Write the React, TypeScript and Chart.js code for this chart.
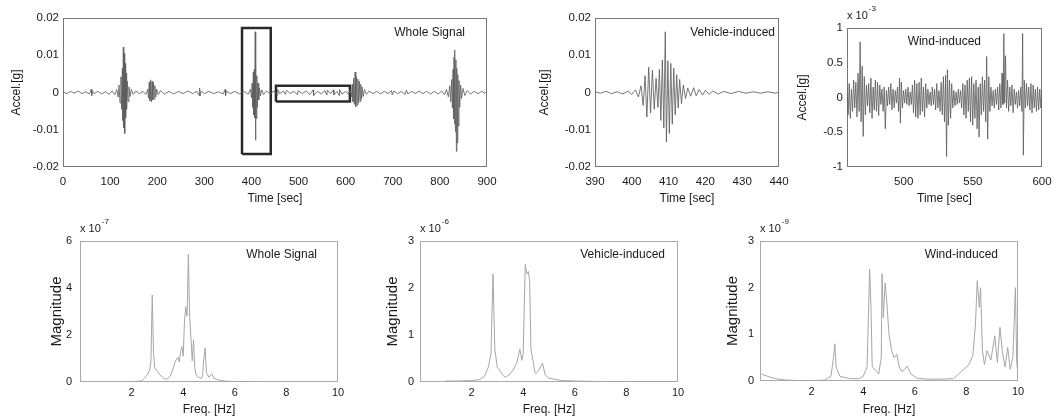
import React, { useEffect, useRef } from 'react';
import { Chart, registerables } from 'chart.js';

Chart.register(...registerables);

const FONT = '"Liberation Sans", Arial, Helvetica, sans-serif';

// ---------- Data ----------
// Whole signal: [time s, accel g]
const wholeSignal: number[][] = [
  [0, 0.0002], [8, -0.0003], [16, 0.0003], [24, -0.0002], [32, 0.0004], [40, -0.0003], [48, 0.0002],
  [56, -0.0004], [60, 0.0009], [61, -0.0008], [62, 0.0005], [66, -0.0003], [74, 0.0003], [82, -0.0004],
  [90, 0.0002], [98, -0.0005], [104, 0.0004], [110, -0.0006], [114, 0.0008], [117, -0.0012], [119, 0.002],
  [121, -0.0028], [123, 0.0042], [124.5, -0.0045], [126, 0.0065], [127, -0.0075], [128, 0.0122],
  [129, -0.0095], [130, 0.0105], [131, -0.011], [132, 0.0078], [133, -0.0068], [134, 0.0052],
  [135, -0.0045], [136.5, 0.003], [138, -0.0024], [140, 0.0015], [142, -0.0011], [145, 0.0008],
  [149, -0.0005], [155, 0.0004], [162, -0.0003], [170, 0.0003], [176, -0.0005], [180, 0.0009],
  [181.5, -0.0015], [183, 0.0028], [184.5, -0.0022], [186, 0.0034], [187.5, -0.0025], [189, 0.003],
  [190.5, -0.002], [192, 0.0026], [193.5, -0.0018], [195, 0.0018], [197, -0.0012], [199, 0.0009],
  [202, -0.0006], [207, 0.0005], [215, -0.0004], [225, 0.0003], [235, -0.0004], [245, 0.0003],
  [255, -0.0003], [265, 0.0004], [275, -0.0003], [284, 0.0003], [289, -0.0008], [290, 0.0012],
  [291, -0.0009], [293, 0.0004], [300, -0.0003], [310, 0.0003], [320, -0.0003], [330, 0.0002],
  [340, -0.0004], [344, 0.0008], [345, -0.0009], [347, 0.0004], [355, -0.0003], [365, 0.0003],
  [375, -0.0004], [385, 0.0003], [393, -0.0005], [398, 0.0009], [400, -0.0014], [401.5, 0.0025],
  [403, -0.004], [404, 0.0055], [405, -0.006], [406, 0.0062], [407, -0.0068], [408, 0.0163],
  [408.6, -0.0128], [409.5, 0.0075], [410.5, -0.007], [411.5, 0.0045], [412.5, -0.004], [414, 0.0025],
  [415.5, -0.002], [417, 0.0012], [419, -0.0009], [422, 0.0007], [426, -0.0005], [432, 0.0004],
  [440, -0.0003], [448, 0.0004], [455, -0.0007], [456, 0.0008], [460, -0.0003], [468, 0.0004],
  [472, -0.0005], [475, 0.0006], [482, -0.0003], [490, 0.0003], [498, -0.0006], [499, 0.0005],
  [508, -0.0003], [516, 0.0004], [524, -0.0005], [531, 0.0007], [532, -0.0008], [540, 0.0003],
  [548, -0.0004], [556, 0.0005], [560, -0.0007], [561, 0.0006], [568, -0.0003], [574, 0.0007],
  [575, -0.0006], [582, 0.0003], [586, -0.0008], [587, 0.0008], [592, -0.0004], [600, 0.0003],
  [606, -0.0005], [610, 0.0008], [612, -0.0012], [614, 0.0022], [615.5, -0.0025], [617, 0.0038],
  [618.5, -0.0032], [620, 0.0055], [621.5, -0.0038], [623, 0.0042], [624.5, -0.0034], [626, 0.0036],
  [627.5, -0.0028], [629, 0.003], [630.5, -0.0024], [632, 0.0022], [633.5, -0.0018], [635, 0.0015],
  [637, -0.0011], [640, 0.0008], [644, -0.0005], [650, 0.0004], [658, -0.0003], [666, 0.0003],
  [674, -0.0004], [682, 0.0003], [690, -0.0003], [697, 0.0005], [699, -0.0006], [702, 0.0004],
  [710, -0.0003], [718, 0.0003], [726, -0.0005], [729, 0.0006], [732, -0.0004], [740, 0.0003],
  [748, -0.0003], [756, 0.0004], [764, -0.0003], [772, 0.0003], [780, -0.0004], [788, 0.0003],
  [796, -0.0004], [804, 0.0004], [810, -0.0006], [814, 0.0008], [818, -0.0012], [821, 0.0018],
  [823, -0.0025], [825, 0.0035], [826.5, -0.0042], [828, 0.0062], [829, -0.007], [830, 0.0095],
  [831, -0.0085], [832, 0.0114], [833, -0.0105], [834, 0.0088], [835, -0.0158], [836, 0.0065],
  [837, -0.0135], [838, 0.0048], [839, -0.009], [840.5, 0.0032], [842, -0.004], [844, 0.002],
  [846, -0.0016], [849, 0.0011], [853, -0.0008], [858, 0.0005], [865, -0.0004], [873, 0.0003],
  [881, -0.0003], [889, 0.0003], [895, -0.0002], [900, 0.0002],
];

// Time windows marked on the whole signal: [tStart, tEnd, accMin, accMax]
const vehicleWindow = [380, 441, -0.0165, 0.0173];
const windWindow = [452, 609, -0.0024, 0.0018];

// Vehicle-induced segment: [time s, accel g]
const vehicleSignal: number[][] = [
  [390, 0.0002], [391.5, -0.0002], [393, 0.0003], [394.5, -0.0003], [396, 0.0002], [397.5, -0.0004],
  [399, 0.0004], [400, -0.0005], [401, 0.0007], [401.8, -0.0012], [402.5, 0.0018], [403.1, -0.0035],
  [403.6, 0.0045], [404.1, -0.0066], [404.6, 0.0068], [405.1, -0.0055], [405.6, 0.006], [406.1, -0.0045],
  [406.6, 0.0038], [407.1, -0.004], [407.5, 0.0062], [407.9, -0.0075], [408.3, 0.0087], [408.7, -0.0095],
  [409.1, 0.0163], [409.4, -0.0133], [409.8, 0.0085], [410.2, -0.011], [410.6, 0.0078], [411, -0.0085],
  [411.4, 0.0065], [411.8, -0.006], [412.2, 0.0048], [412.6, -0.0042], [413, 0.0035], [413.5, -0.003],
  [414, 0.002], [414.6, -0.0016], [415.2, 0.0012], [416, -0.001], [416.8, 0.0013], [417.5, -0.0009],
  [418.3, 0.0008], [419.2, -0.0007], [420, 0.0006], [421, -0.0005], [422, 0.0004], [423.5, -0.0004],
  [425, 0.0003], [427, -0.0003], [429, 0.0003], [431, -0.0002], [433, 0.0002], [435, -0.0002],
  [437, 0.0002], [439, -0.0002], [440, 0.0001],
];

// Wind-induced segment: [time s, accel in 1e-3 g]
const windSignal: number[][] = [
  [459, 0.15], [459.8, -0.25], [460.6, 0.2], [461.4, -0.3], [462.2, 0.12], [463, -0.2], [463.8, 0.25],
  [464.6, -0.15], [465.4, 0.22], [466.2, -0.28], [467, 0.35], [467.8, -0.2], [468.5, 0.8], [469.2, -0.35],
  [470, 0.45], [470.7, -0.56], [471.5, 0.3], [472.3, -0.25], [473.1, 0.18], [473.9, -0.12], [474.7, 0.2],
  [475.5, -0.22], [476.3, 0.28], [477.1, -0.3], [477.9, 0.15], [478.7, -0.18], [479.5, 0.25], [480.3, -0.2],
  [481.1, 0.22], [481.9, -0.26], [482.7, 0.18], [483.5, -0.1], [484.3, 0.12], [485.1, -0.2], [485.9, 0.15],
  [486.7, -0.45], [487.5, 0.1], [488.3, -0.12], [489.1, 0.15], [489.9, -0.1], [490.7, 0.2], [491.5, -0.18],
  [492.3, 0.12], [493.1, -0.15], [493.9, 0.1], [494.7, -0.08], [495.5, 0.15], [496.3, -0.2], [497, 0.28],
  [497.6, -0.37], [498.3, 0.22], [499.1, -0.15], [499.9, 0.1], [500.7, -0.08], [501.5, 0.12], [502.3, -0.1],
  [503.1, 0.15], [503.9, -0.12], [504.7, 0.08], [505.5, -0.1], [506.3, 0.18], [507.1, -0.22], [507.9, 0.25],
  [508.7, -0.28], [509.5, 0.2], [510.3, -0.3], [511.1, 0.22], [511.9, -0.25], [512.7, 0.28], [513.5, -0.2],
  [514.3, 0.15], [515.1, -0.28], [515.9, 0.2], [516.7, -0.15], [517.5, 0.12], [518.3, -0.1], [519.1, 0.08],
  [519.9, -0.12], [520.7, 0.15], [521.5, -0.1], [522.3, 0.12], [523.1, -0.18], [523.9, 0.2], [524.7, -0.15],
  [525.5, 0.1], [526.3, -0.2], [527.1, 0.22], [527.9, -0.25], [528.7, 0.3], [529.5, -0.35], [530.3, 0.32],
  [531, -0.85], [531.6, 0.4], [532.3, -0.4], [533.1, 0.25], [533.9, -0.3], [534.7, 0.2], [535.5, -0.15],
  [536.3, 0.1], [537.1, -0.12], [537.9, 0.08], [538.7, -0.1], [539.5, 0.12], [540.3, -0.08], [541.1, 0.1],
  [541.9, -0.15], [542.7, 0.2], [543.5, -0.25], [544.3, 0.18], [545.1, -0.3], [545.9, 0.25], [546.7, -0.2],
  [547.5, 0.28], [548.3, -0.35], [549.1, 0.3], [549.9, -0.4], [550.7, 0.2], [551.5, -0.3], [552.3, 0.25],
  [553.1, -0.45], [553.9, 0.15], [554.5, -0.57], [555.3, 0.2], [556.1, -0.25], [556.9, 0.3], [557.7, -0.2],
  [558.5, 0.25], [559.3, -0.35], [560, 0.59], [560.7, -0.6], [561.5, 0.3], [562.3, -0.2], [563.1, 0.15],
  [563.9, -0.12], [564.7, 0.1], [565.5, -0.15], [566.3, 0.12], [567.1, -0.1], [567.9, 0.15], [568.7, -0.18],
  [569.5, 0.2], [570.3, -0.15], [571.1, 0.35], [571.8, -0.1], [572.4, 0.92], [573, -0.08], [573.6, 0.6],
  [574.3, -0.15], [575.1, 0.25], [575.9, -0.2], [576.7, 0.15], [577.5, -0.12], [578.3, 0.18], [579.1, -0.22],
  [579.9, 0.12], [580.7, -0.1], [581.5, 0.08], [582.3, -0.15], [583.1, 0.1], [583.9, -0.12], [584.7, 0.15],
  [585.5, -0.2], [586, 0.92], [586.5, -0.83], [587.2, 0.25], [588, -0.15], [588.8, 0.2], [589.6, -0.12],
  [590.4, 0.15], [591.2, -0.18], [592, 0.2], [592.8, -0.22], [593.6, 0.18], [594.4, -0.15], [595.2, 0.12],
  [596, -0.2], [596.8, 0.15], [597.6, -0.18], [598.4, 0.12], [599.2, -0.15], [600, 0.1],
];

// Spectra: [freq Hz, magnitude in the panel's exponent unit]
const wholeSpectrum: number[][] = [
  [1.0, 0], [1.5, 0], [2.0, 0.01], [2.4, 0.05], [2.6, 0.3], [2.7, 0.5], [2.75, 0.9], [2.8, 3.7], [2.85, 1.2],
  [2.9, 0.6], [3.0, 0.45], [3.1, 0.3], [3.2, 0.2], [3.3, 0.12], [3.4, 0.15], [3.5, 0.25], [3.6, 0.55],
  [3.7, 0.9], [3.8, 1.05], [3.85, 0.85], [3.9, 1.3], [3.95, 1.5], [4.0, 1.1], [4.05, 2.6], [4.1, 3.2],
  [4.15, 2.8], [4.2, 5.45], [4.25, 2.8], [4.3, 1.9], [4.35, 0.9], [4.4, 1.8], [4.45, 0.6], [4.5, 0.3],
  [4.6, 0.2], [4.7, 0.15], [4.75, 0.25], [4.8, 1.0], [4.85, 1.45], [4.9, 0.4], [5.0, 0.2], [5.1, 0.35],
  [5.2, 0.15], [5.4, 0.08], [5.6, 0.04], [6.0, 0.02], [7.0, 0.01], [8.0, 0.01], [9.0, 0], [10.0, 0],
];
const vehicleSpectrum: number[][] = [
  [1.0, 0.02], [1.5, 0.02], [2.0, 0.03], [2.3, 0.05], [2.5, 0.12], [2.65, 0.32], [2.75, 0.6], [2.83, 2.3],
  [2.9, 0.7], [3.0, 0.3], [3.1, 0.25], [3.2, 0.15], [3.3, 0.1], [3.45, 0.15], [3.6, 0.25], [3.75, 0.4],
  [3.87, 0.7], [3.95, 0.46], [4.0, 0.6], [4.08, 2.5], [4.14, 2.3], [4.2, 2.35], [4.25, 2.15], [4.3, 0.7],
  [4.4, 0.4], [4.45, 0.2], [4.5, 0.18], [4.6, 0.25], [4.75, 0.4], [4.85, 0.15], [5.0, 0.08], [5.5, 0.03],
  [6.0, 0.02], [7.0, 0.01], [8.0, 0.01], [9.0, 0.01], [10.0, 0.01],
];
const windSpectrum: number[][] = [
  [0.05, 0.15], [0.2, 0.12], [0.4, 0.08], [0.6, 0.05], [1.0, 0.02], [1.5, 0.01], [2.0, 0.01], [2.5, 0.02],
  [2.75, 0.1], [2.85, 0.5], [2.9, 0.8], [2.95, 0.3], [3.1, 0.1], [3.5, 0.05], [3.85, 0.05], [4.0, 0.1],
  [4.15, 0.3], [4.25, 2.4], [4.3, 1.6], [4.35, 0.3], [4.45, 0.25], [4.6, 0.15], [4.7, 0.5], [4.73, 2.3],
  [4.78, 1.36], [4.85, 2.1], [4.92, 1.65], [5.0, 1.0], [5.1, 0.65], [5.2, 0.5], [5.3, 0.57], [5.4, 0.3],
  [5.5, 0.2], [5.6, 0.25], [5.7, 0.32], [5.85, 0.15], [6.1, 0.06], [6.5, 0.04], [7.0, 0.04], [7.5, 0.05],
  [7.7, 0.15], [7.9, 0.25], [8.1, 0.35], [8.25, 0.55], [8.35, 1.2], [8.42, 2.15], [8.5, 1.58], [8.55, 2.0],
  [8.62, 0.65], [8.7, 0.35], [8.8, 0.65], [8.95, 0.45], [9.1, 0.97], [9.2, 0.4], [9.3, 1.15], [9.4, 0.6],
  [9.5, 0.3], [9.6, 0.72], [9.7, 0.25], [9.8, 0.5], [9.9, 2.0], [9.95, 0.4], [10.0, 0.15],
];

// Tick values
const wholeTimeTicks = [0, 100, 200, 300, 400, 500, 600, 700, 800, 900];
const vehicleTimeTicks = [390, 400, 410, 420, 430, 440];
const windTimeTicks = [500, 550, 600];
const accelTicks = [-0.02, -0.01, 0, 0.01, 0.02];
const windAccelTicks = [-1, -0.5, 0, 0.5, 1];
const freqTicks = [2, 4, 6, 8, 10];
const wholeMagTicks = [0, 2, 4, 6];
const vehicleMagTicks = [0, 1, 2, 3];
const windMagTicks = [0, 1, 2, 3];

// ---------- Drawing helpers ----------
const toXY = (arr: number[][]) => arr.map(([x, y]) => ({ x, y }));
const boxXY = (w: number[]) => [
  { x: w[0], y: w[2] }, { x: w[1], y: w[2] }, { x: w[1], y: w[3] }, { x: w[0], y: w[3] }, { x: w[0], y: w[2] },
];
const fmt = (v: number) => String(parseFloat(v.toFixed(4)));

const decor = {
  id: 'decor',
  beforeDatasetsDraw(chart: any, _a: any, opts: any) {
    const { ctx, chartArea: a } = chart;
    ctx.save();
    ctx.strokeStyle = opts.frame || '#666';
    ctx.lineWidth = 1;
    ctx.strokeRect(Math.round(a.left) + 0.5, Math.round(a.top) + 0.5, Math.round(a.right - a.left) - 1, Math.round(a.bottom - a.top) - 1);
    ctx.restore();
  },
  afterDraw(chart: any, _a: any, opts: any) {
    const { ctx, chartArea: a } = chart;
    ctx.save();
    ctx.fillStyle = '#1a1a1a';
    if (opts.title) {
      ctx.font = `${opts.titleSize || 12}px ${FONT}`;
      ctx.textAlign = 'right';
      ctx.textBaseline = 'middle';
      ctx.fillText(opts.title, a.right - opts.titleDx, a.top + opts.titleDy);
    }
    if (opts.exp) {
      ctx.font = `11px ${FONT}`;
      ctx.textAlign = 'left';
      ctx.textBaseline = 'middle';
      const base = 'x 10';
      ctx.fillText(base, a.left, a.top - 12);
      const w = ctx.measureText(base).width;
      ctx.font = `8px ${FONT}`;
      ctx.fillText(opts.exp, a.left + w + 1, a.top - 19);
    }
    ctx.restore();
  },
};

type Panel = {
  area: number[]; // L, T, R, B (page px)
  yW: number; xH: number; padT: number; padR: number;
  xMin: number; xMax: number; xTicks: number[];
  yMin: number; yMax: number; yTicks: number[];
  xTitle: string; yTitle: string; yTitleSize: number;
  xPad: number; yPad: number; tickSize: number;
  title: string; titleDx: number; titleDy: number; titleSize: number;
  exp?: string; frame: string;
  datasets: any[];
};

const sig = (d: number[][], color = 'rgba(95,95,95,0.85)') => ({
  data: toXY(d), borderColor: color, borderWidth: 1, pointRadius: 0, tension: 0, fill: false,
});
const spec = (d: number[][]) => ({
  data: toXY(d), borderColor: '#a6a6a6', borderWidth: 1, pointRadius: 0, tension: 0, fill: false,
});
const box = (w: number[]) => ({
  data: boxXY(w), borderColor: '#2a2a2a', borderWidth: 2.5, pointRadius: 0, tension: 0, fill: false,
});

const panels: Panel[] = [
  {
    area: [63, 18, 487, 167], yW: 54, xH: 39, padT: 10, padR: 14,
    xMin: 0, xMax: 900, xTicks: wholeTimeTicks, yMin: -0.02, yMax: 0.02, yTicks: accelTicks,
    xTitle: 'Time [sec]', yTitle: 'Accel.[g]', yTitleSize: 12, xPad: 8, yPad: 4, tickSize: 11.5,
    title: 'Whole Signal', titleDx: 22, titleDy: 15, titleSize: 12, frame: '#777',
    datasets: [sig(wholeSignal), box(vehicleWindow), box(windWindow)],
  },
  {
    area: [595, 18, 779, 167], yW: 58, xH: 39, padT: 10, padR: 14,
    xMin: 390, xMax: 440, xTicks: vehicleTimeTicks, yMin: -0.02, yMax: 0.02, yTicks: accelTicks,
    xTitle: 'Time [sec]', yTitle: 'Accel.[g]', yTitleSize: 12, xPad: 8, yPad: 4, tickSize: 11.5,
    title: 'Vehicle-induced', titleDx: 4, titleDy: 15, titleSize: 12, frame: '#777',
    datasets: [sig(vehicleSignal)],
  },
  {
    area: [847, 28, 1042, 167], yW: 52, xH: 39, padT: 26, padR: 14,
    xMin: 459, xMax: 600, xTicks: windTimeTicks, yMin: -1, yMax: 1, yTicks: windAccelTicks,
    xTitle: 'Time [sec]', yTitle: 'Accel.[g]', yTitleSize: 12, xPad: 8, yPad: 4, tickSize: 11.5,
    title: 'Wind-induced', titleDx: 61, titleDy: 14, titleSize: 12, exp: '-3', frame: '#777',
    datasets: [sig(windSignal, 'rgba(90,90,90,0.8)')],
  },
  {
    area: [80, 241, 338, 382], yW: 32, xH: 35, padT: 26, padR: 14,
    xMin: 0, xMax: 10, xTicks: freqTicks, yMin: 0, yMax: 6, yTicks: wholeMagTicks,
    xTitle: 'Freq. [Hz]', yTitle: 'Magnitude', yTitleSize: 15, xPad: 4, yPad: 8, tickSize: 11,
    title: 'Whole Signal', titleDx: 21, titleDy: 14, titleSize: 12, exp: '-7', frame: '#aaa',
    datasets: [spec(wholeSpectrum)],
  },
  {
    area: [420, 241, 678, 382], yW: 36, xH: 35, padT: 26, padR: 14,
    xMin: 0, xMax: 10, xTicks: freqTicks, yMin: 0, yMax: 3, yTicks: vehicleMagTicks,
    xTitle: 'Freq. [Hz]', yTitle: 'Magnitude', yTitleSize: 15, xPad: 4, yPad: 6, tickSize: 11,
    title: 'Vehicle-induced', titleDx: 13, titleDy: 14, titleSize: 12, exp: '-6', frame: '#aaa',
    datasets: [spec(vehicleSpectrum)],
  },
  {
    area: [760, 241, 1018, 381], yW: 36, xH: 36, padT: 26, padR: 14,
    xMin: 0, xMax: 10, xTicks: freqTicks, yMin: 0, yMax: 3, yTicks: windMagTicks,
    xTitle: 'Freq. [Hz]', yTitle: 'Magnitude', yTitleSize: 15, xPad: 4, yPad: 6, tickSize: 11,
    title: 'Wind-induced', titleDx: 20, titleDy: 14, titleSize: 12, exp: '-9', frame: '#aaa',
    datasets: [spec(windSpectrum)],
  },
];

const geom = (p: Panel) => {
  const [L, T, R, B] = p.area;
  return { left: L - p.yW, top: T - p.padT, width: R - L + p.yW + p.padR, height: B - T + p.xH + p.padT };
};

function PanelChart({ p }: { p: Panel }) {
  const ref = useRef<HTMLCanvasElement | null>(null);
  const g = geom(p);
  useEffect(() => {
    if (!ref.current) return;
    const tickFont = { family: FONT, size: p.tickSize };
    const chart = new Chart(ref.current, {
      type: 'line',
      data: { datasets: p.datasets },
      plugins: [decor as any],
      options: {
        animation: false,
        responsive: false,
        devicePixelRatio: 1,
        events: [],
        layout: { padding: { left: 0, top: p.padT, right: p.padR, bottom: 0 } },
        plugins: {
          legend: { display: false },
          tooltip: { enabled: false },
          decor: {
            title: p.title, titleDx: p.titleDx, titleDy: p.titleDy, titleSize: p.titleSize,
            exp: p.exp, frame: p.frame,
          },
        } as any,
        scales: {
          x: {
            type: 'linear',
            min: p.xMin,
            max: p.xMax,
            grid: { display: false, drawTicks: false, tickLength: 0 },
            border: { display: false },
            afterBuildTicks: (s: any) => { s.ticks = p.xTicks.map((v) => ({ value: v })); },
            afterFit: (s: any) => { s.height = p.xH; s.paddingLeft = 0; s.paddingRight = 0; },
            ticks: {
              color: '#1a1a1a', font: tickFont, padding: p.xPad, maxRotation: 0, autoSkip: false,
              callback: (v: any) => fmt(Number(v)),
            },
            title: {
              display: true, text: p.xTitle, color: '#1a1a1a',
              font: { family: FONT, size: 12 }, padding: 0,
            },
          },
          y: {
            type: 'linear',
            min: p.yMin,
            max: p.yMax,
            grid: { display: false, drawTicks: false, tickLength: 0 },
            border: { display: false },
            afterBuildTicks: (s: any) => { s.ticks = p.yTicks.map((v) => ({ value: v })); },
            afterFit: (s: any) => { s.width = p.yW; s.paddingTop = 0; s.paddingBottom = 0; },
            ticks: {
              color: '#1a1a1a', font: tickFont, padding: p.yPad, autoSkip: false,
              callback: (v: any) => fmt(Number(v)),
            },
            title: {
              display: true, text: p.yTitle, color: '#1a1a1a',
              font: { family: FONT, size: p.yTitleSize }, padding: 0,
            },
          },
        },
      } as any,
    });
    return () => chart.destroy();
  }, []);
  return (
    <canvas
      ref={ref}
      width={g.width}
      height={g.height}
      style={{ position: 'absolute', left: g.left, top: g.top, width: g.width, height: g.height }}
    />
  );
}

export default function App() {
  return (
    <div style={{ position: 'absolute', left: 0, top: 0, width: 1063, height: 420, background: '#fff', overflow: 'hidden' }}>
      {panels.map((p, i) => (
        <PanelChart key={i} p={p} />
      ))}
    </div>
  );
}
